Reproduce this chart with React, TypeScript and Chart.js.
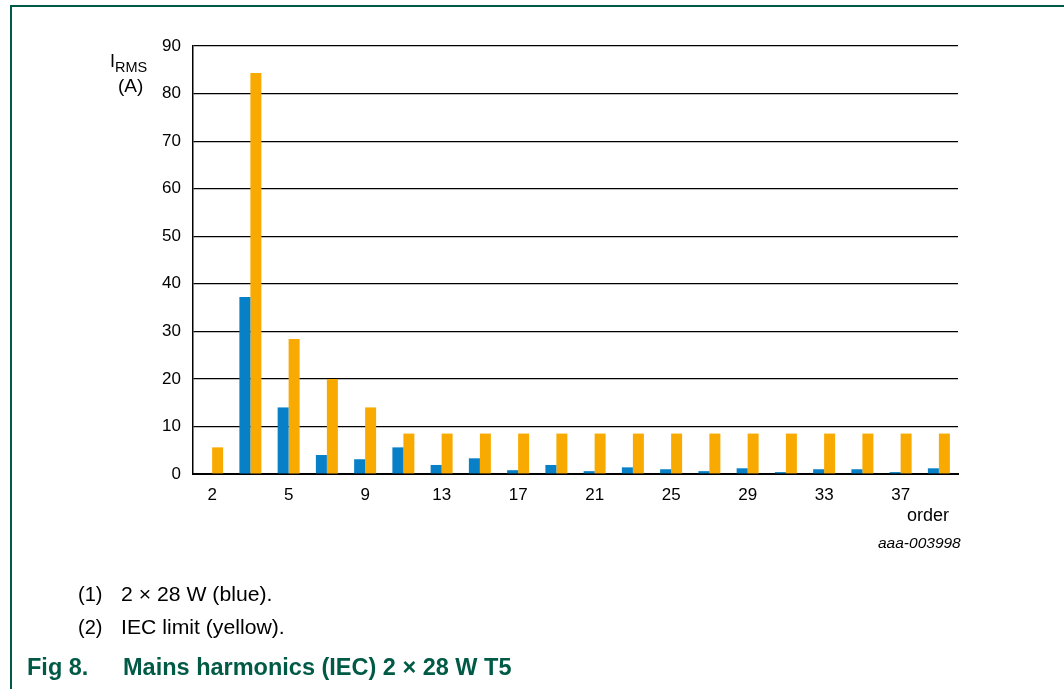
import React, { useEffect, useRef } from "react";
import { Chart, registerables } from "chart.js";

Chart.register(...registerables);

const categories = ["2", "3", "5", "7", "9", "11", "13", "15", "17", "19", "21", "23", "25", "27", "29", "31", "33", "35", "37", "39"];
const blueValues = [0, 37.2, 14, 4.0, 3.1, 5.6, 1.9, 3.3, 0.8, 1.9, 0.6, 1.4, 1.0, 0.6, 1.2, 0.4, 1.0, 1.0, 0.4, 1.2];
const yellowValues = [5.6, 84.3, 28.4, 20, 14, 8.5, 8.5, 8.5, 8.5, 8.5, 8.5, 8.5, 8.5, 8.5, 8.5, 8.5, 8.5, 8.5, 8.5, 8.5];
const yTicks = [0, 10, 20, 30, 40, 50, 60, 70, 80, 90];

const FONT = '"Liberation Sans", Arial, sans-serif';
const GREEN = "#005a46";

export default function App() {
  const ref = useRef<HTMLCanvasElement | null>(null);

  useEffect(() => {
    document.body.style.margin = "0";
    if (!ref.current) return;
    const chart = new Chart(ref.current, {
      type: "bar",
      data: {
        labels: categories,
        datasets: [
          { label: "2 × 28 W", data: blueValues, backgroundColor: "#0780c7", borderWidth: 0, categoryPercentage: 0.575, barPercentage: 1, inflateAmount: 0 },
          { label: "IEC limit", data: yellowValues, backgroundColor: "#f8aa00", borderWidth: 0, categoryPercentage: 0.575, barPercentage: 1, inflateAmount: 0 },
        ],
      },
      options: {
        animation: false,
        responsive: false,
        maintainAspectRatio: false,
        devicePixelRatio: 1,
        layout: { padding: { left: 0, top: 46, right: 1064 - 958, bottom: 0 } },
        plugins: { legend: { display: false }, tooltip: { enabled: false } },
        scales: {
          x: {
            offset: true,
            grid: { display: false, drawTicks: false },
            border: { display: true, color: "#000", width: 2 },
            ticks: {
              autoSkip: false,
              maxRotation: 0,
              padding: 11,
              color: "#000",
              font: { family: FONT, size: 17 },
              callback: (_v: any, i: number) => (i % 2 === 0 ? categories[i] : ""),
            },
            afterFit: (s: any) => { s.height = 689 - 474; },
          },
          y: {
            min: 0,
            max: 90,
            afterBuildTicks: (s: any) => { s.ticks = yTicks.map((v) => ({ value: v })); },
            grid: { color: "#000", lineWidth: 1.2, drawTicks: false },
            border: { display: true, color: "#000", width: 1.5 },
            ticks: {
              padding: 12,
              color: "#000",
              font: { family: FONT, size: 17 },
            },
            afterFit: (s: any) => { s.width = 193; },
          },
        },
      } as any,
    } as any);
    return () => chart.destroy();
  }, []);

  const txt: React.CSSProperties = { position: "absolute", fontFamily: FONT, color: "#000", whiteSpace: "nowrap", lineHeight: 1, transformOrigin: "left top" };

  return (
    <div style={{ position: "relative", width: 1064, height: 689, background: "#fff", overflow: "hidden" }}>
      <canvas ref={ref} width={1064} height={689} style={{ position: "absolute", left: 0, top: 0, width: 1064, height: 689 }} />
      <div style={{ position: "absolute", left: 10, top: 5, width: 1054, height: 2, background: GREEN }} />
      <div style={{ position: "absolute", left: 10, top: 5, width: 2, height: 684, background: GREEN }} />
      <div style={{ ...txt, left: 110, top: 52, fontSize: 18 }}>
        I<span style={{ fontSize: 14.5, position: "relative", top: 5 }}>RMS</span>
      </div>
      <div style={{ ...txt, left: 118, top: 76, fontSize: 19 }}>(A)</div>
      <div style={{ ...txt, left: 907, top: 506, fontSize: 18 }}>order</div>
      <div style={{ ...txt, left: 878, top: 535, fontSize: 15.5, fontStyle: "italic" }}>aaa-003998</div>
      <div style={{ ...txt, left: 78, top: 584, fontSize: 20 }}>(1)</div>
      <div style={{ ...txt, left: 121, top: 584, fontSize: 20, transform: "scaleX(1.06)" }}>2 × 28 W (blue).</div>
      <div style={{ ...txt, left: 78, top: 617, fontSize: 20 }}>(2)</div>
      <div style={{ ...txt, left: 121, top: 617, fontSize: 20, transform: "scaleX(1.06)" }}>IEC limit (yellow).</div>
      <div style={{ ...txt, left: 27, top: 656, fontSize: 23.5, fontWeight: "bold", color: GREEN }}>Fig 8.</div>
      <div style={{ ...txt, left: 123, top: 656, fontSize: 23.5, fontWeight: "bold", color: GREEN }}>Mains harmonics (IEC) 2 × 28 W T5</div>
    </div>
  );
}
